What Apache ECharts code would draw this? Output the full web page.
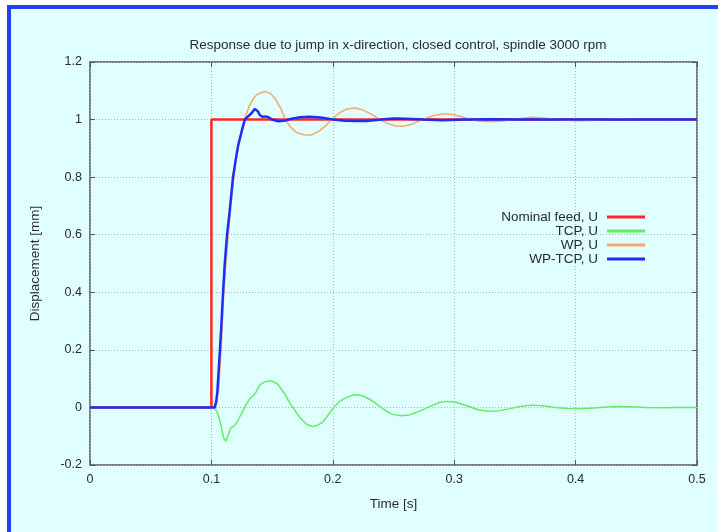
<!DOCTYPE html>
<html>
<head>
<meta charset="utf-8">
<script src="https://cdn.jsdelivr.net/npm/echarts@6/dist/echarts.min.js"></script>
<style>
  html, body { margin: 0; padding: 0; background: #ffffff; }
  #frame {
    position: absolute; left: 7px; top: 5px; width: 760px; height: 560px;
    border-left: 4px solid #1a44f5; border-top: 4px solid #1a44f5;
    background: #e0ffff;
  }
  #chart { position: absolute; left: 0; top: 0; width: 718px; height: 532px; }
</style>
</head>
<body>
<div id="frame"></div>
<div id="chart"></div>
<script>
// values, [time s, displacement mm]
var nominalFeed = [[0, 0], [0.1, 0], [0.1, 1], [0.5, 1]];

var tcp = [[0,0],[0.1,0],[0.102,-0.002],[0.104,-0.01],[0.106,-0.03],[0.108,-0.065],[0.110,-0.105],
  [0.1118,-0.117],[0.1135,-0.1],[0.1157,-0.072],[0.117,-0.066],[0.1184,-0.066],[0.120,-0.058],
  [0.122,-0.043],[0.125,-0.02],[0.1277,0.003],[0.130,0.02],[0.132,0.032],[0.1351,0.044],[0.137,0.055],
  [0.140,0.079],[0.144,0.089],[0.1483,0.093],[0.152,0.088],[0.155,0.079],[0.160,0.05],[0.1647,0.015],
  [0.170,-0.018],[0.1744,-0.043],[0.179,-0.06],[0.1839,-0.066],[0.188,-0.061],[0.1922,-0.049],
  [0.196,-0.027],[0.2004,-0.002],[0.206,0.022],[0.2114,0.035],[0.216,0.042],[0.221,0.044],[0.226,0.038],
  [0.232,0.024],[0.238,0.006],[0.2444,-0.014],[0.250,-0.025],[0.2567,-0.029],[0.263,-0.026],
  [0.269,-0.017],[0.276,-0.004],[0.2828,0.009],[0.288,0.017],[0.2938,0.021],[0.298,0.02],[0.302,0.017],
  [0.311,0.005],[0.3196,-0.008],[0.328,-0.013],[0.336,-0.012],[0.345,-0.005],[0.355,0.004],[0.364,0.008],
  [0.373,0.006],[0.383,0.0],[0.393,-0.004],[0.402,-0.005],[0.412,-0.003],[0.423,0.001],[0.434,0.003],
  [0.445,0.002],[0.457,0.0],[0.47,-0.001],[0.485,0.0],[0.5,0.0]];

var wp = [[0,0],[0.1,0],[0.103,0],[0.106,0.06],[0.108,0.2],[0.110,0.38],[0.112,0.5],[0.114,0.6],
  [0.116,0.7],[0.118,0.78],[0.120,0.85],[0.122,0.9],[0.125,0.96],[0.128,1.01],[0.131,1.045],
  [0.134,1.07],[0.137,1.085],[0.141,1.094],[0.145,1.097],[0.149,1.09],[0.153,1.07],[0.157,1.04],
  [0.161,1.0],[0.165,0.975],[0.170,0.955],[0.176,0.947],[0.182,0.946],[0.188,0.958],[0.194,0.978],
  [0.199,1.0],[0.205,1.022],[0.211,1.036],[0.218,1.04],[0.225,1.033],[0.232,1.018],[0.239,1.0],
  [0.246,0.985],[0.252,0.978],[0.258,0.977],[0.265,0.984],[0.274,1.0],[0.283,1.014],[0.292,1.02],
  [0.300,1.017],[0.311,1.004],[0.320,0.995],[0.329,0.992],[0.340,0.995],[0.352,1.003],[0.364,1.008],
  [0.376,1.005],[0.388,0.999],[0.400,0.996],[0.412,0.997],[0.424,1.001],[0.435,1.003],[0.450,1.001],
  [0.465,0.999],[0.48,1.0],[0.5,1.0]];

var wpTcp = [[0,0],[0.1,0],[0.1027,0],[0.104,0.02],[0.105,0.06],[0.106,0.13],[0.107,0.2],[0.108,0.27],
  [0.1096,0.4],[0.111,0.5],[0.1129,0.6],[0.115,0.68],[0.1178,0.8],[0.120,0.86],[0.122,0.91],
  [0.125,0.96],[0.1275,1.0],[0.130,1.01],[0.133,1.022],[0.1357,1.037],[0.138,1.03],[0.140,1.015],
  [0.142,1.01],[0.1444,1.011],[0.147,1.008],[0.150,1.0],[0.155,0.994],[0.16,0.996],[0.166,1.003],
  [0.173,1.008],[0.1808,1.01],[0.19,1.007],[0.2,1.0],[0.21,0.996],[0.22,0.995],[0.228,0.995],
  [0.24,1.0],[0.25,1.004],[0.26,1.003],[0.275,1.0],[0.29,0.998],[0.31,1.0],[0.33,1.001],[0.36,1.0],
  [0.5,1.0]];

var seriesNames = ['Nominal feed, U', 'TCP, U', 'WP, U', 'WP-TCP, U'];
var seriesColors = ['#ff2626', '#62ee62', '#f5a86c', '#1e2cf5'];
var seriesWidths = [2.5, 1.5, 1.5, 2.5];
var seriesData = [nominalFeed, tcp, wp, wpTcp];

var font = '"Liberation Sans", Arial, sans-serif';
var textColor = '#2a2a2a';

var chart = echarts.init(document.getElementById('chart'));

var gridLine = { show: true, lineStyle: { color: '#aab4b4', type: [1, 2], width: 1 } };
var tick = { show: true, inside: true, length: 5, lineStyle: { color: '#555', width: 1 } };
var noLine = { show: false, onZero: false };
function fmt(v) { return String(parseFloat(v.toFixed(2))); }

chart.setOption({
  backgroundColor: 'transparent',
  animation: false,
  title: {
    text: 'Response due to jump in x-direction, closed control, spindle 3000 rpm',
    left: 393, top: 33, textAlign: 'center',
    textStyle: { fontFamily: font, fontSize: 13.5, fontWeight: 'normal', color: textColor }
  },
  legend: {
    orient: 'vertical', align: 'right', right: 68, top: 205,
    itemWidth: 38, itemHeight: 3, itemGap: 0, icon: 'rect',
    textStyle: { fontFamily: font, fontSize: 13.5, color: textColor, lineHeight: 12, padding: [0, 4, 0, 0] },
    data: seriesNames
  },
  grid: {
    left: 90, top: 62, width: 607, height: 403,
    show: true, borderColor: '#555', borderWidth: 1.5, backgroundColor: 'transparent'
  },
  xAxis: [{
    type: 'value', min: 0, max: 0.5, interval: 0.1,
    name: 'Time [s]', nameLocation: 'middle', nameGap: 32,
    nameTextStyle: { fontFamily: font, fontSize: 13.5, color: textColor },
    axisLine: noLine, axisTick: tick, splitLine: gridLine,
    axisLabel: { fontFamily: font, fontSize: 12.5, color: textColor, margin: 8, formatter: fmt }
  }, {
    type: 'value', min: 0, max: 0.5, interval: 0.1, position: 'top',
    axisLine: noLine, axisTick: tick, splitLine: { show: false }, axisLabel: { show: false }
  }],
  yAxis: [{
    type: 'value', min: -0.2, max: 1.2, interval: 0.2,
    name: 'Displacement [mm]', nameLocation: 'middle', nameGap: 48,
    nameTextStyle: { fontFamily: font, fontSize: 13.5, color: textColor },
    axisLine: noLine, axisTick: tick, splitLine: gridLine,
    axisLabel: { fontFamily: font, fontSize: 12.5, color: textColor, margin: 8, formatter: fmt }
  }, {
    type: 'value', min: -0.2, max: 1.2, interval: 0.2, position: 'right',
    axisLine: noLine, axisTick: tick, splitLine: { show: false }, axisLabel: { show: false }
  }],
  series: seriesNames.map(function (name, i) {
    return {
      name: name, type: 'line', data: seriesData[i],
      showSymbol: false, smooth: false, z: 2 + i,
      color: seriesColors[i],
      lineStyle: { color: seriesColors[i], width: seriesWidths[i] }
    };
  })
});
</script>
</body>
</html>
